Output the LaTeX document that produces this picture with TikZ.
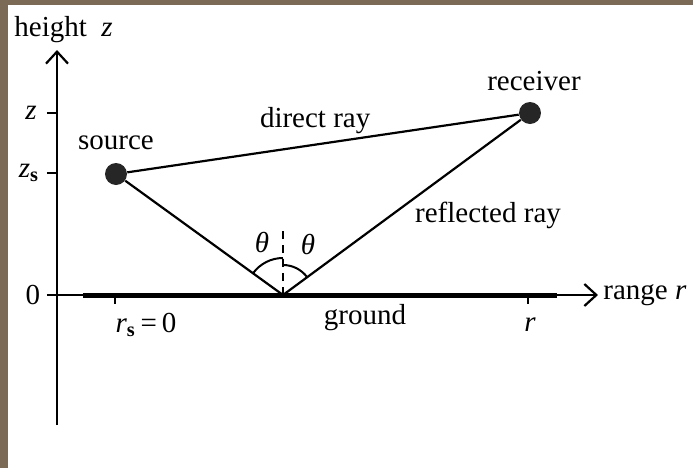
\documentclass[tikz,border=0pt]{standalone}
\usepackage{fontspec}
\setmainfont{Liberation Serif}
\usetikzlibrary{arrows.meta,positioning,calc}
\definecolor{framebrown}{RGB}{122,106,86}

\begin{document}
\begin{tikzpicture}[
  x=0.5pt, y=0.5pt, font=\fontsize{14.5}{17}\selectfont,
  axis/.style={line width=1.1pt, -{Straight Barb[length=6pt, width=11pt]}},
  ray/.style={line width=1.1pt},
  tick/.style={line width=1pt},
  dot/.style={circle, fill=black!85, inner sep=0pt, minimum size=11pt},
  lbl/.style={inner sep=1pt}]
% frame
\fill[framebrown] (0,0) rectangle (693,468);
\fill[white] (8,0) rectangle (693,463);
\useasboundingbox (0,0) rectangle (693,468);
% axes
\coordinate (orig) at (57,173);
\coordinate (zbot) at (57,43);
\coordinate (ztop) at (57,418);
\coordinate (rleft) at (47,173);
\coordinate (rend) at (598,173);
\draw[axis] (zbot) -- (ztop);
\draw[axis] (rleft) -- (rend);
\draw[line width=2.5pt] (83,173) -- (557,173);
% ticks
\draw[tick] (47,355) -- (57,355);
\draw[tick] (47,295) -- (57,295);
\draw[tick] (115,173) -- (115,164);
\draw[tick] (528,173) -- (528,164);
% axis labels
\node[lbl, anchor=west] (hgt) at (12,438) {height\enspace\textit{z}};
\node[lbl] (zlab) at (31,355) {\textit{z}};
\node[lbl] (zslab) at (29,295) {\textit{z}\textsubscript{\textbf{s}}};
\node[lbl] (zero) at (33,173) {0};
\node[lbl, anchor=west] (range) at (601,173) {range \textit{r}};
\node[lbl] (rslab) at (146,143) {\textit{r}\textsubscript{\textbf{s}}\,=\,0};
\node[lbl] (rlab) at (530,143) {\textit{r}};
\node[lbl] (gnd) at (365,150) {ground};
% source, receiver, reflection point
\node[dot] (src) at (116,294) {};
\node[dot] (rcv) at (530,355) {};
\coordinate (refl) at (283,173);
\node[lbl, above=5pt of src] (srclab) {source};
\node[lbl, above=4pt of rcv, xshift=2pt] (rcvlab) {receiver};
% rays
\draw[ray] (src) -- node[lbl, pos=0.48, above=4pt] (direct) {direct ray} (rcv);
\draw[ray] (src) -- (refl);
\draw[ray] (refl) -- (rcv);
\node[lbl] (reflab) at (488,253) {reflected ray};
% normal and angles
\coordinate (ntop) at (283,240);
\draw[tick, dashed, dash pattern=on 4pt off 3pt] (refl) -- (ntop);
\draw[tick] ($(refl)+(144:37)$) arc[start angle=144, end angle=90, radius=37];
\draw[tick] ($(refl)+(90:30)$) arc[start angle=90, end angle=36.4, radius=30];
\node[lbl] (thl) at (262,226) {\textit{θ}};
\node[lbl] (thr) at (308,223) {\textit{θ}};
\end{tikzpicture}
\end{document}
